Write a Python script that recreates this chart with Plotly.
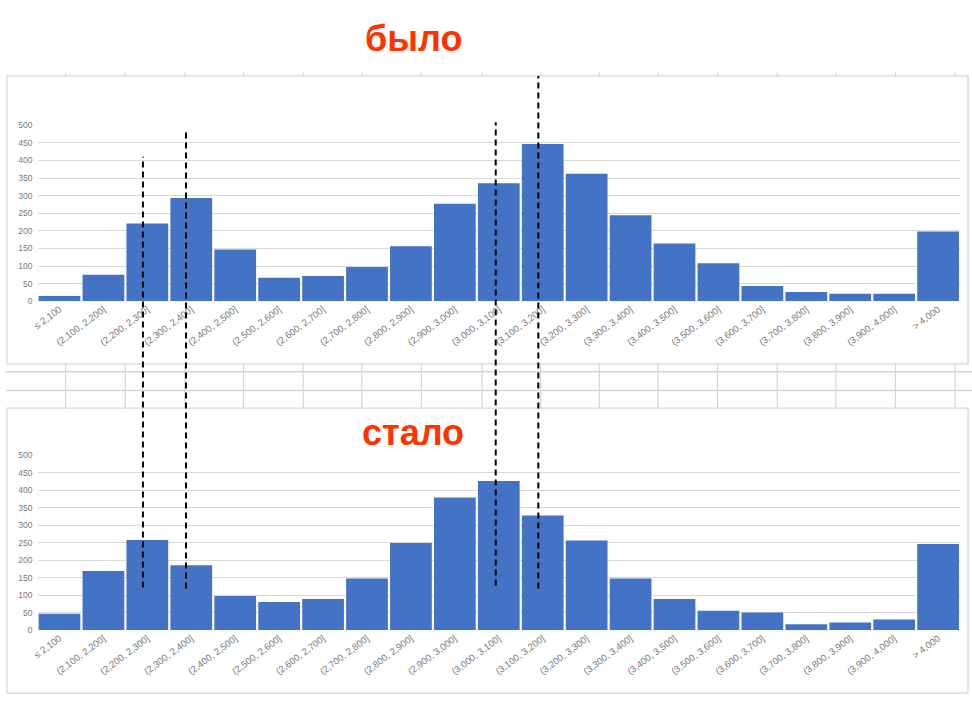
import plotly.graph_objects as go

W, H = 972, 701

categories = ["≤ 2,100", "(2,100, 2,200]", "(2,200, 2,300]", "(2,300, 2,400]", "(2,400, 2,500]",
              "(2,500, 2,600]", "(2,600, 2,700]", "(2,700, 2,800]", "(2,800, 2,900]", "(2,900, 3,000]",
              "(3,000, 3,100]", "(3,100, 3,200]", "(3,200, 3,300]", "(3,300, 3,400]", "(3,400, 3,500]",
              "(3,500, 3,600]", "(3,600, 3,700]", "(3,700, 3,800]", "(3,800, 3,900]", "(3,900, 4,000]",
              "> 4,000"]

before_values = [15, 75, 221, 293, 147, 67, 72, 97, 156, 277, 335,
                 447, 362, 244, 164, 108, 43, 26, 21, 21, 198]
after_values = [47, 169, 258, 186, 98, 81, 89, 148, 249, 379, 426,
                328, 256, 148, 89, 56, 51, 17, 22, 31, 246]

y_ticks = list(range(0, 501, 50))
title_before = "было"
title_after = "стало"
# positions of the dashed marker lines, in category-index units
marker_positions = [1.9, 2.88, 9.93, 10.9]

BAR = "#4472C4"
GRID = "#d9d9d9"
TICKC = "#7a7a7a"
RED = "#FF3300"


def px_x(x):
    return x / W


def px_y(y):
    return 1 - y / H


fig = go.Figure()
fig.add_trace(go.Bar(x=categories, y=before_values, marker=dict(color=BAR, line=dict(width=0)),
                     xaxis="x", yaxis="y", showlegend=False))
fig.add_trace(go.Bar(x=categories, y=after_values, marker=dict(color=BAR, line=dict(width=0)),
                     xaxis="x2", yaxis="y2", showlegend=False))

xdom = [px_x(31.7), px_x(960)]
common_x = dict(type="category", tickangle=-37, showgrid=False, showline=False, ticks="",
                tickfont=dict(family="Liberation Sans", size=9.5, color=TICKC), zeroline=False,
                range=[-0.5, len(categories) - 0.5])
common_y = dict(range=[0, 500], tickvals=y_ticks, showgrid=True, gridcolor=GRID, gridwidth=1.2,
                zeroline=False, showline=False, ticks="",
                tickfont=dict(family="Liberation Sans", size=8.5, color=TICKC), ticklabelstandoff=4)

fig.update_layout(
    width=W, height=H, margin=dict(l=0, r=0, t=0, b=0),
    paper_bgcolor="white", plot_bgcolor="white", bargap=0.05,
    xaxis=dict(domain=xdom, anchor="y", **common_x),
    yaxis=dict(domain=[px_y(300.5), px_y(122)], anchor="x", **common_y),
    xaxis2=dict(domain=xdom, anchor="y2", **common_x),
    yaxis2=dict(domain=[px_y(634.3), px_y(456.7)], anchor="x2", **common_y),
)

shapes = []
frame = dict(color="#d6d6d6", width=1.2)
# chart frames
shapes.append(dict(type="rect", xref="paper", yref="paper", x0=px_x(1), x1=px_x(968),
                   y0=px_y(364), y1=px_y(72), line=frame, layer="below"))
shapes.append(dict(type="rect", xref="paper", yref="paper", x0=px_x(1), x1=px_x(968),
                   y0=px_y(698), y1=px_y(409), line=frame, layer="below"))
# spreadsheet cell grid between the charts
for yy in [372, 391]:
    shapes.append(dict(type="line", xref="paper", yref="paper", x0=0, x1=px_x(972),
                       y0=px_y(yy), y1=px_y(yy), line=dict(color="#d6d6d6", width=1.5), layer="below"))
for xx in [60, 120, 180, 239, 299, 358, 418, 479, 538, 597, 656, 716, 776, 835, 895, 955]:
    shapes.append(dict(type="line", xref="paper", yref="paper", x0=px_x(xx), x1=px_x(xx),
                       y0=px_y(409), y1=px_y(364), line=dict(color="#d6d6d6", width=1.2), layer="below"))
    shapes.append(dict(type="line", xref="paper", yref="paper", x0=px_x(xx), x1=px_x(xx),
                       y0=px_y(72), y1=px_y(68), line=dict(color="#d6d6d6", width=1), layer="below"))

# dashed marker lines
line_spans = [(154, 591), (126, 592), (119, 589), (72, 592)]
for pos, (ytop, ybot) in zip(marker_positions, line_spans):
    shapes.append(dict(type="line", xref="x", yref="paper", x0=pos, x1=pos,
                       y0=px_y(ybot), y1=px_y(ytop),
                       line=dict(color="black", width=2, dash="6px,4px"), layer="above"))

fig.update_layout(shapes=shapes)

fig.add_annotation(text=f"<b>{title_before}</b>", xref="paper", yref="paper", x=px_x(410), y=px_y(34),
                   xanchor="center", yanchor="middle", showarrow=False,
                   font=dict(family="Liberation Sans", size=36, color=RED))
fig.add_annotation(text=f"<b>{title_after}</b>", xref="paper", yref="paper", x=px_x(410), y=px_y(434),
                   xanchor="center", yanchor="middle", showarrow=False,
                   font=dict(family="Liberation Sans", size=36, color=RED))

fig.write_html("out.html", config={"displayModeBar": False},
               post_script="document.body.style.margin='0px';document.body.style.overflow='hidden';")
